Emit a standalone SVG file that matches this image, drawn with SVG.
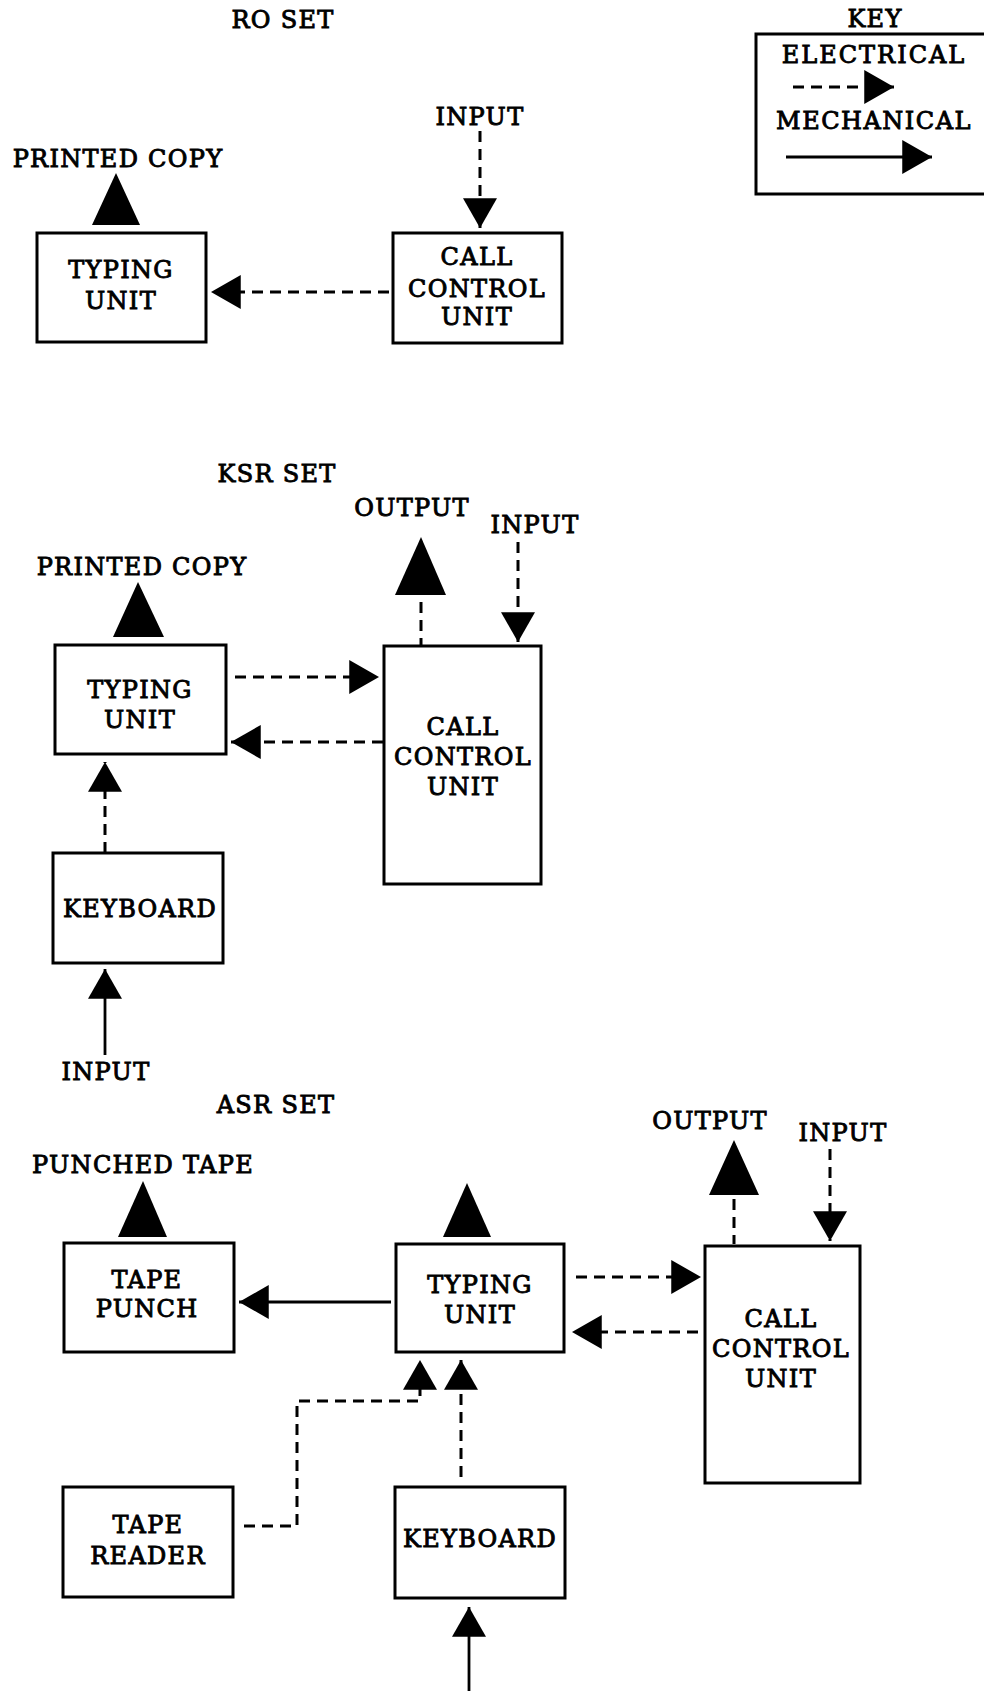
<svg xmlns="http://www.w3.org/2000/svg" width="984" height="1691" viewBox="0 0 984 1691">
<defs>
<style>
text{font-family:"DejaVu Serif","Liberation Serif",serif;font-size:24px;text-anchor:middle;fill:#000;stroke:#000;stroke-width:0.9;letter-spacing:1.3px}
.box{fill:#fff;stroke:#000;stroke-width:3}
.el{fill:none;stroke:#000;stroke-width:3;stroke-dasharray:11 7}
.me{fill:none;stroke:#000;stroke-width:2.8}
.out{fill:#000}
</style>
<marker id="ah" markerUnits="userSpaceOnUse" markerWidth="30" markerHeight="34" viewBox="0 0 28 32" refX="28" refY="16" orient="auto">
<path d="M0,0 L28,16 L0,32 z" fill="#000"/>
</marker>
</defs>
<rect width="984" height="1691" fill="#fff"/>

<g id="titles">
<text x="283" y="28">RO SET</text>
<text x="277" y="482">KSR SET</text>
<text x="276" y="1113">ASR SET</text>
</g>

<g id="key">
<text x="875" y="27">KEY</text>
<rect class="box" x="756" y="34" width="240" height="160"/>
<text x="874" y="63" style="letter-spacing:2px">ELECTRICAL</text>
<text x="874" y="129" style="letter-spacing:1.5px">MECHANICAL</text>
<path class="el" d="M793,87 H894" marker-end="url(#ah)"/>
<path class="me" d="M786,157 H932" marker-end="url(#ah)"/>
</g>

<!-- RO SET -->
<g id="ro-typing">
<rect class="box" x="37" y="233" width="169" height="109"/>
<text x="121" y="278">TYPING</text>
<text x="121" y="309">UNIT</text>
</g>
<g id="ro-printed">
<text x="118" y="167">PRINTED COPY</text>
<polygon class="out" points="116,173 92,225 140,225"/>
</g>
<g id="ro-ccu">
<rect class="box" x="393" y="233" width="169" height="110"/>
<text x="477" y="265">CALL</text>
<text x="477" y="297">CONTROL</text>
<text x="477" y="325">UNIT</text>
</g>
<g id="ro-input"><text x="480" y="125">INPUT</text></g>

<!-- KSR SET -->
<g id="ksr-printed">
<text x="142" y="575">PRINTED COPY</text>
<polygon class="out" points="138,582 113,637 164,637"/>
</g>
<g id="ksr-typing">
<rect class="box" x="55" y="645" width="171" height="109"/>
<text x="140" y="698">TYPING</text>
<text x="140" y="728">UNIT</text>
</g>
<g id="ksr-ccu">
<rect class="box" x="384" y="646" width="157" height="238"/>
<text x="463" y="735">CALL</text>
<text x="463" y="765">CONTROL</text>
<text x="463" y="795">UNIT</text>
</g>
<g id="ksr-output">
<text x="412" y="516">OUTPUT</text>
<polygon class="out" points="421,537 395,595 446,595"/>
</g>
<g id="ksr-input"><text x="535" y="533">INPUT</text></g>
<g id="ksr-keyboard">
<rect class="box" x="53" y="853" width="170" height="110"/>
<text x="140" y="917">KEYBOARD</text>
</g>
<g id="ksr-kb-input"><text x="106" y="1080">INPUT</text></g>

<!-- ASR SET -->
<g id="asr-punched">
<text x="143" y="1173">PUNCHED TAPE</text>
<polygon class="out" points="143,1181 118,1237 167,1237"/>
</g>
<g id="asr-punch">
<rect class="box" x="64" y="1243" width="170" height="109"/>
<text x="147" y="1288">TAPE</text>
<text x="147" y="1317">PUNCH</text>
</g>
<g id="asr-typing">
<rect class="box" x="396" y="1244" width="168" height="108"/>
<text x="480" y="1293">TYPING</text>
<text x="480" y="1323">UNIT</text>
<polygon class="out" points="467,1183 443,1237 491,1237"/>
</g>
<g id="asr-ccu">
<rect class="box" x="705" y="1246" width="155" height="237"/>
<text x="781" y="1327">CALL</text>
<text x="781" y="1357">CONTROL</text>
<text x="781" y="1387">UNIT</text>
</g>
<g id="asr-output">
<text x="710" y="1129">OUTPUT</text>
<polygon class="out" points="734,1140 709,1195 759,1195"/>
</g>
<g id="asr-input"><text x="843" y="1141">INPUT</text></g>
<g id="asr-reader">
<rect class="box" x="63" y="1487" width="170" height="110"/>
<text x="148" y="1533">TAPE</text>
<text x="148" y="1564">READER</text>
</g>
<g id="asr-keyboard">
<rect class="box" x="395" y="1487" width="170" height="111"/>
<text x="480" y="1547">KEYBOARD</text>
</g>

<g id="connectors">
<!-- RO -->
<path class="el" d="M480,131 V228" marker-end="url(#ah)"/>
<path class="el" d="M389,292 H211" marker-end="url(#ah)"/>
<!-- KSR -->
<path class="el" d="M421,602 V645"/>
<path class="el" d="M518,542 V642" marker-end="url(#ah)"/>
<path class="el" d="M235,677 H379" marker-end="url(#ah)"/>
<path class="el" d="M383,742 H231" marker-end="url(#ah)"/>
<path class="el" d="M105,853 V762" marker-end="url(#ah)"/>
<path class="me" d="M105,1055 V969" marker-end="url(#ah)"/>
<!-- ASR -->
<path class="me" d="M391,1302 H239" marker-end="url(#ah)"/>
<path class="el" d="M576,1277 H701" marker-end="url(#ah)"/>
<path class="el" d="M698,1332 H572" marker-end="url(#ah)"/>
<path class="el" d="M734,1199 V1244"/>
<path class="el" d="M830,1149 V1241" marker-end="url(#ah)"/>
<path class="el" d="M244,1526 H297 V1401 H420 V1360" marker-end="url(#ah)"/>
<path class="el" d="M461,1477 V1360" marker-end="url(#ah)"/>
<path class="me" d="M469,1691 V1607" marker-end="url(#ah)"/>
</g>
</svg>
